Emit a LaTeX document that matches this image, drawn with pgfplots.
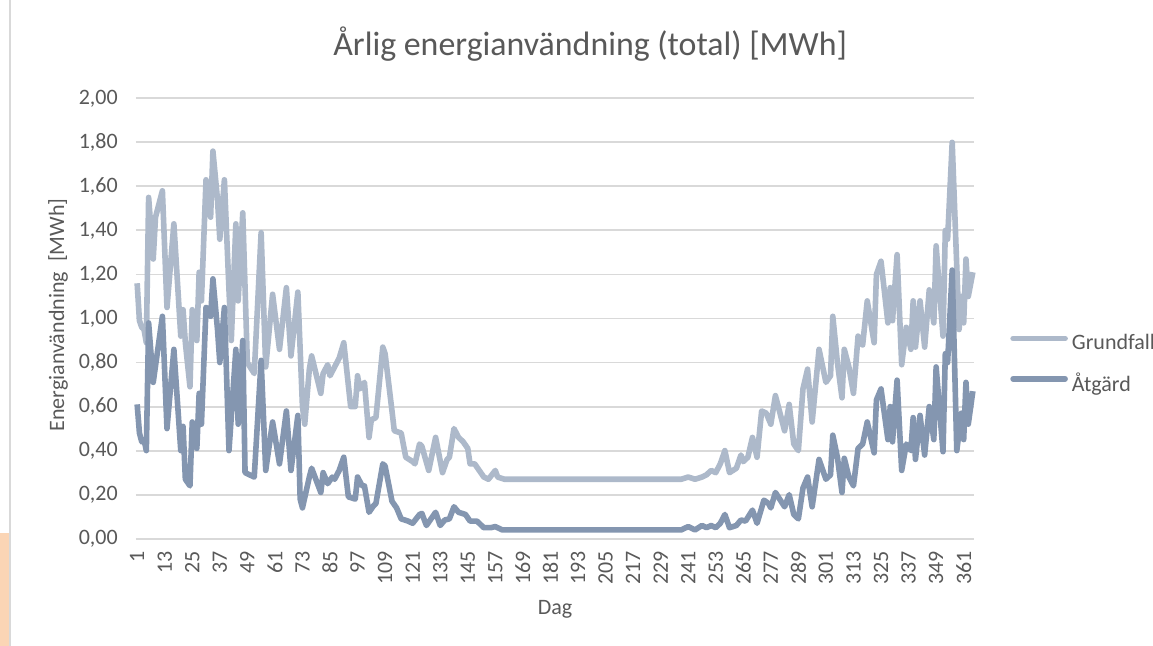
\documentclass[border=0pt]{standalone}
\usepackage{fontspec}
\setmainfont{Carlito}
\usepackage{pgfplots}
\pgfplotsset{compat=1.18}
\definecolor{grund}{RGB}{173,185,202}
\definecolor{atg}{RGB}{132,150,176}
\definecolor{txt}{RGB}{89,89,89}
\definecolor{gridc}{RGB}{217,217,217}
\definecolor{peach}{RGB}{251,213,181}
\begin{document}
\begin{tikzpicture}
\fill[white] (0,0) rectangle (864.75pt,484.5pt);
\useasboundingbox (0,0) rectangle (864.75pt,484.5pt);
\fill[peach] (0,0) rectangle (6.75pt,84.75pt);
\draw[gridc, line width=1pt] (7.5pt,0) -- (7.5pt,484.5pt);
\begin{axis}[
  at={(102pt,80.475pt)}, anchor=south west,
  scale only axis, width=628.5pt, height=330.3pt,
  xmin=0.5, xmax=365.5, ymin=0, ymax=2,
  xtick={1,13,25,37,49,61,73,85,97,109,121,133,145,157,169,181,193,205,217,229,241,253,265,277,289,301,313,325,337,349,361},
  xticklabels={1,13,25,37,49,61,73,85,97,109,121,133,145,157,169,181,193,205,217,229,241,253,265,277,289,301,313,325,337,349,361},
  ytick={0,0.2,0.4,0.6,0.8,1,1.2,1.4,1.6,1.8,2},
  axis line style={draw=none},
  major tick length=0pt,
  ymajorgrids, grid style={gridc, line width=1.4pt},
  tick label style={font=\fontsize{16.5}{19}\selectfont, text=txt},
  xticklabel style={rotate=90, anchor=east, inner sep=0pt},
  xticklabel shift=9pt,
  yticklabel style={anchor=east, inner sep=0pt, /pgf/number format/.cd, fixed, fixed zerofill, precision=2, use comma, assume math mode=true},
  yticklabel shift=13.5pt,
  title={Årlig energianvändning (total) [MWh]},
  title style={at={(axis description cs:0.542,1.104)}, anchor=center, font=\fontsize{25.4}{30}\selectfont, text=txt},
  xlabel={Dag},
  xlabel style={at={(axis description cs:0.5,-0.160)}, anchor=center, font=\fontsize{16.5}{19}\selectfont, text=txt},
  ylabel={Energianvändning\ \ [MWh]},
  ylabel style={at={(axis description cs:-0.0931,0.508)}, anchor=center, rotate=0, font=\fontsize{16.5}{19}\selectfont, text=txt},
  legend style={at={(axis description cs:1.043,0.398)}, anchor=west, draw=none, fill=none, font=\fontsize{16.5}{19}\selectfont, text=txt, cells={anchor=west}, row sep=12pt, inner sep=0pt, column sep=1pt},
  legend image code/.code={\draw[#1, line cap=round] (0pt,0.3em) -- (39pt,0.3em);},
  clip=false,
]
\addplot[grund, line width=4.2pt, line join=round] coordinates {
(1,1.16)(2,0.99)(3,0.96)(4,0.95)(5,0.89)(6,1.55)(8,1.27)(9,1.46)(12,1.58)(14,1.05)(17,1.43)(20,0.92)(21,1.04)(22,0.89)(24,0.69)(25,1.04)(27,0.90)(28,1.21)(29,1.08)(31,1.63)(33,1.46)(34,1.76)(36,1.54)(37,1.36)(39,1.63)(41,1.13)(42,0.90)(44,1.43)(45,1.08)(47,1.48)(49,0.80)(52,0.75)(55,1.39)(57,0.78)(60,1.11)(63,0.86)(66,1.14)(68,0.83)(71,1.12)(73,0.60)(74,0.52)(76,0.77)(77,0.83)(81,0.66)(82,0.75)(84,0.79)(85,0.74)(87,0.78)(89,0.82)(91,0.89)(94,0.60)(96,0.60)(97,0.74)(98,0.68)(100,0.71)(102,0.46)(103,0.54)(105,0.55)(108,0.87)(109,0.84)(112,0.58)(113,0.49)(116,0.48)(118,0.37)(121,0.35)(122,0.34)(124,0.43)(125,0.42)(128,0.31)(129,0.36)(131,0.46)(134,0.30)(136,0.36)(137,0.37)(139,0.50)(141,0.46)(143,0.44)(145,0.41)(146,0.34)(148,0.34)(150,0.31)(152,0.28)(154,0.27)(157,0.31)(158,0.28)(161,0.27)(238,0.27)(241,0.28)(244,0.27)(247,0.28)(249,0.29)(251,0.31)(253,0.30)(255,0.34)(257,0.40)(259,0.30)(262,0.32)(264,0.38)(265,0.35)(267,0.37)(269,0.46)(271,0.37)(273,0.58)(275,0.57)(277,0.52)(279,0.65)(283,0.49)(285,0.61)(287,0.43)(289,0.40)(291,0.68)(293,0.77)(295,0.53)(298,0.86)(301,0.71)(303,0.74)(304,1.01)(306,0.80)(308,0.64)(309,0.86)(311,0.78)(313,0.66)(315,0.92)(317,0.88)(319,1.08)(322,0.89)(323,1.20)(325,1.26)(328,0.98)(329,1.14)(330,0.99)(332,1.29)(334,0.79)(336,0.96)(338,0.86)(339,1.08)(340,0.87)(342,1.08)(344,0.87)(346,1.13)(348,0.98)(349,1.33)(352,0.92)(353,1.40)(354,1.36)(356,1.80)(359,0.95)(360,1.10)(361,0.98)(362,1.27)(363,1.10)(365,1.21)
};
\addlegendentry{Grundfall}
\addplot[atg, line width=4.2pt, line join=round] coordinates {
(1,0.61)(2,0.48)(3,0.44)(4,0.45)(5,0.40)(6,0.98)(8,0.71)(12,1.01)(14,0.50)(17,0.86)(20,0.40)(21,0.51)(22,0.27)(24,0.24)(25,0.53)(27,0.41)(28,0.66)(29,0.52)(31,1.05)(33,1.01)(34,1.18)(36,0.95)(37,0.80)(39,1.05)(41,0.40)(44,0.86)(45,0.52)(47,0.90)(48,0.30)(52,0.28)(55,0.81)(57,0.31)(60,0.53)(63,0.34)(66,0.58)(68,0.31)(71,0.56)(72,0.18)(73,0.14)(76,0.28)(77,0.32)(81,0.21)(82,0.30)(84,0.25)(86,0.28)(87,0.27)(89,0.31)(91,0.37)(93,0.19)(96,0.18)(97,0.28)(99,0.24)(100,0.24)(102,0.12)(104,0.15)(105,0.16)(108,0.34)(109,0.33)(112,0.17)(114,0.14)(116,0.09)(119,0.08)(121,0.07)(124,0.11)(125,0.115)(127,0.06)(131,0.12)(133,0.06)(135,0.085)(137,0.09)(139,0.145)(141,0.12)(144,0.11)(146,0.08)(149,0.08)(152,0.05)(155,0.05)(157,0.055)(160,0.04)(238,0.04)(241,0.055)(244,0.04)(247,0.06)(249,0.05)(251,0.06)(253,0.05)(255,0.07)(257,0.11)(259,0.05)(262,0.06)(264,0.085)(266,0.08)(269,0.13)(271,0.07)(274,0.175)(276,0.16)(277,0.14)(279,0.21)(283,0.145)(285,0.20)(287,0.11)(289,0.09)(291,0.23)(293,0.28)(295,0.145)(298,0.36)(301,0.27)(303,0.29)(304,0.47)(306,0.37)(308,0.21)(309,0.365)(311,0.28)(313,0.24)(315,0.41)(317,0.43)(319,0.53)(322,0.39)(323,0.63)(325,0.68)(328,0.45)(329,0.60)(330,0.44)(332,0.72)(334,0.31)(336,0.43)(338,0.40)(339,0.55)(340,0.36)(342,0.56)(344,0.38)(346,0.60)(348,0.45)(349,0.78)(352,0.395)(353,0.84)(354,0.80)(356,1.22)(358,0.40)(360,0.57)(361,0.45)(362,0.71)(363,0.52)(365,0.67)
};
\addlegendentry{Åtgärd}
\end{axis}
\end{tikzpicture}
\end{document}
